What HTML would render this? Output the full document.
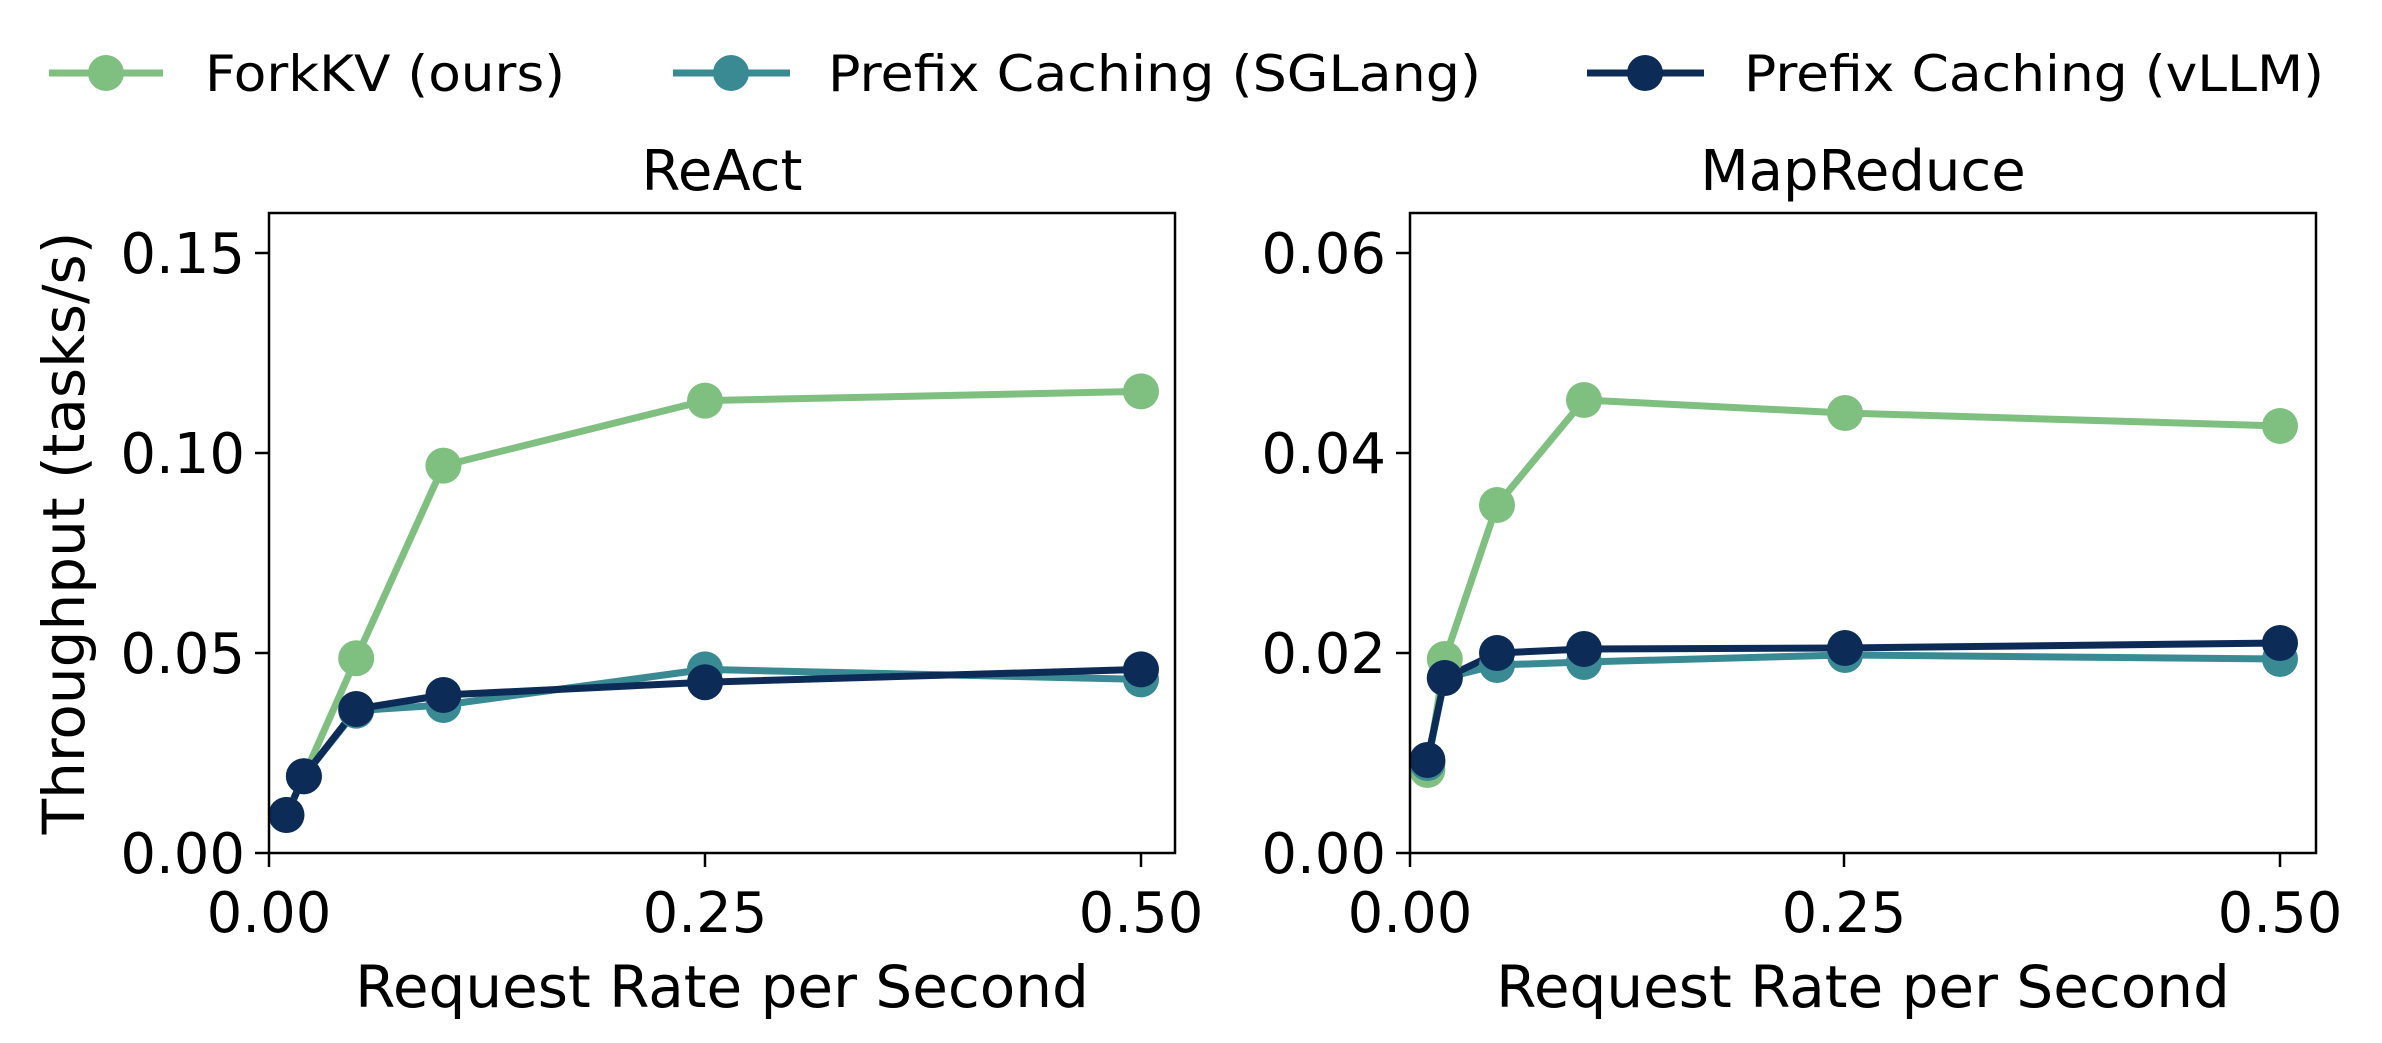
<!DOCTYPE html>
<html><head><meta charset="utf-8"><style>html,body{margin:0;padding:0;background:#fff}svg{display:block}text{font-family:"DejaVu Sans","Liberation Sans",sans-serif;fill:#000}</style></head><body>
<svg width="2382" height="1043" viewBox="0 0 2382 1043" xmlns="http://www.w3.org/2000/svg">
<!-- legend -->
<g stroke-width="7">
<line x1="49" y1="73" x2="163" y2="73" stroke="#7fc081"/><circle cx="106" cy="73" r="18" fill="#7fc081"/>
<line x1="673" y1="73" x2="790" y2="73" stroke="#3a8a94"/><circle cx="731" cy="73" r="18" fill="#3a8a94"/>
<line x1="1587" y1="73" x2="1704" y2="73" stroke="#0d2b57"/><circle cx="1645" cy="73" r="18" fill="#0d2b57"/>
</g>
<g font-size="50">
<text x="205" y="91" textLength="360" lengthAdjust="spacingAndGlyphs">ForkKV (ours)</text>
<text x="828" y="91" textLength="653" lengthAdjust="spacingAndGlyphs">Prefix Caching (SGLang)</text>
<text x="1744" y="91" textLength="580" lengthAdjust="spacingAndGlyphs">Prefix Caching (vLLM)</text>
</g>
<!-- titles -->
<text x="722" y="190" font-size="56" text-anchor="middle">ReAct</text>
<text x="1863" y="190" font-size="56" text-anchor="middle">MapReduce</text>
<g font-size="56">
<g stroke="#000" stroke-width="2.5">
<line x1="269" y1="253" x2="255" y2="253"/><line x1="269" y1="453" x2="255" y2="453"/><line x1="269" y1="653" x2="255" y2="653"/><line x1="269" y1="853" x2="255" y2="853"/>
<line x1="269" y1="853" x2="269" y2="867"/><line x1="705" y1="853" x2="705" y2="867"/><line x1="1141" y1="853" x2="1141" y2="867"/>
<line x1="1410" y1="253" x2="1396" y2="253"/><line x1="1410" y1="453" x2="1396" y2="453"/><line x1="1410" y1="653" x2="1396" y2="653"/><line x1="1410" y1="853" x2="1396" y2="853"/>
<line x1="1410" y1="853" x2="1410" y2="867"/><line x1="1844" y1="853" x2="1844" y2="867"/><line x1="2280" y1="853" x2="2280" y2="867"/>
</g>
<g text-anchor="end">
<text x="245" y="273">0.15</text><text x="245" y="473">0.10</text><text x="245" y="673">0.05</text><text x="245" y="873">0.00</text>
<text x="1386" y="273">0.06</text><text x="1386" y="473">0.04</text><text x="1386" y="673">0.02</text><text x="1386" y="873">0.00</text>
</g>
<g text-anchor="middle">
<text x="269" y="932">0.00</text><text x="705" y="932">0.25</text><text x="1141" y="932">0.50</text>
<text x="1410" y="932">0.00</text><text x="1844" y="932">0.25</text><text x="2280" y="932">0.50</text>
<text x="722" y="1007" font-size="58">Request Rate per Second</text>
<text x="1863" y="1007" font-size="58">Request Rate per Second</text>
<text transform="translate(84,533) rotate(-90)" font-size="58">Throughput (tasks/s)</text>
</g>
</g>
<g stroke-width="7" fill="none" stroke-linejoin="round">
<polyline stroke="#7fc081" points="286.4,815 303.9,776.2 356.2,658.2 443.4,465.6 705,400.6 1141,391.4"/>
<polyline stroke="#3a8a94" points="286.4,815 303.9,776.2 356.2,710.6 443.4,705 705,669.4 1141,679.4"/>
<polyline stroke="#0d2b57" points="286.4,815 303.9,776.2 356.2,709 443.4,695 705,682.2 1141,669.4"/>
</g>
<g fill="#7fc081"><circle cx="286.4" cy="815" r="18"/><circle cx="303.9" cy="776.2" r="18"/><circle cx="356.2" cy="658.2" r="18"/><circle cx="443.4" cy="465.6" r="18"/><circle cx="705" cy="400.6" r="18"/><circle cx="1141" cy="391.4" r="18"/></g>
<g fill="#3a8a94"><circle cx="286.4" cy="815" r="18"/><circle cx="303.9" cy="776.2" r="18"/><circle cx="356.2" cy="710.6" r="18"/><circle cx="443.4" cy="705" r="18"/><circle cx="705" cy="669.4" r="18"/><circle cx="1141" cy="679.4" r="18"/></g>
<g fill="#0d2b57"><circle cx="286.4" cy="815" r="18"/><circle cx="303.9" cy="776.2" r="18"/><circle cx="356.2" cy="709" r="18"/><circle cx="443.4" cy="695" r="18"/><circle cx="705" cy="682.2" r="18"/><circle cx="1141" cy="669.4" r="18"/></g>
<g stroke-width="7" fill="none" stroke-linejoin="round">
<polyline stroke="#7fc081" points="1427.4,770 1444.8,659 1497,505 1584,400 1845,413 2280,426"/>
<polyline stroke="#3a8a94" points="1427.4,763 1444.8,678 1497,665 1584,662 1845,655 2280,659"/>
<polyline stroke="#0d2b57" points="1427.4,760 1444.8,678 1497,653 1584,649 1845,648 2280,643"/>
</g>
<g fill="#7fc081"><circle cx="1427.4" cy="770" r="18"/><circle cx="1444.8" cy="659" r="18"/><circle cx="1497" cy="505" r="18"/><circle cx="1584" cy="400" r="18"/><circle cx="1845" cy="413" r="18"/><circle cx="2280" cy="426" r="18"/></g>
<g fill="#3a8a94"><circle cx="1427.4" cy="763" r="18"/><circle cx="1444.8" cy="678" r="18"/><circle cx="1497" cy="665" r="18"/><circle cx="1584" cy="662" r="18"/><circle cx="1845" cy="655" r="18"/><circle cx="2280" cy="659" r="18"/></g>
<g fill="#0d2b57"><circle cx="1427.4" cy="760" r="18"/><circle cx="1444.8" cy="678" r="18"/><circle cx="1497" cy="653" r="18"/><circle cx="1584" cy="649" r="18"/><circle cx="1845" cy="648" r="18"/><circle cx="2280" cy="643" r="18"/></g>
<rect x="269" y="213" width="906" height="640" fill="none" stroke="#000" stroke-width="2.5"/>
<rect x="1410" y="213" width="906" height="640" fill="none" stroke="#000" stroke-width="2.5"/>
</svg>
</body></html>
